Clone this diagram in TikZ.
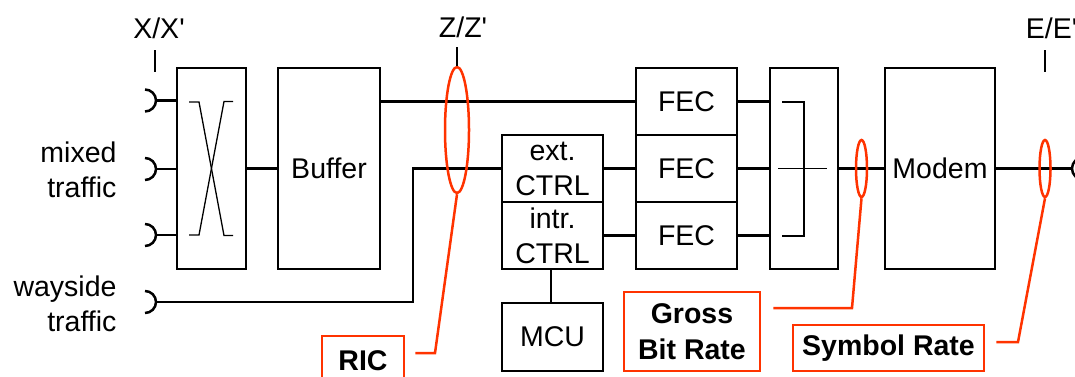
\documentclass[tikz,border=0pt]{standalone}
\usepackage{fontspec}
\setmainfont{Liberation Sans}
\usepackage{tikz}
\usetikzlibrary{shapes.geometric, arrows, positioning}
\definecolor{ricred}{RGB}{255,51,0}

\begin{document}
\begin{tikzpicture}[x=1pt, y=1pt, node distance=100pt,
    font=\fontsize{28.5}{35}\selectfont,
    blk/.style={draw, rectangle, line width=2.5pt, inner sep=0pt, align=center},
    tag/.style={draw=ricred, rectangle, line width=2.5pt, inner sep=0pt, align=center,
        font=\fontsize{28.5}{36}\selectfont\bfseries},
    ring/.style={draw=ricred, ellipse, line width=2.5pt, inner sep=0pt},
    wire/.style={line width=2.5pt},
    redline/.style={draw=ricred, line width=2.5pt},
    thinline/.style={line width=1.3pt}]
    \clip (0,0) rectangle (1075,-376);

    % Main chain of blocks
    \node [blk, minimum width=69pt, minimum height=201pt] (xbar) at (211.5,-168.5) {};
    \node [blk, right of=xbar, node distance=117.5pt, minimum width=102pt, minimum height=201pt] (buffer) {Buffer};
    \node [blk, right of=buffer, node distance=223.5pt, minimum width=101pt, minimum height=67pt] (extc) {ext.\\CTRL};
    \node [blk, below of=extc, node distance=67pt, minimum width=101pt, minimum height=67pt] (intc) {intr.\\CTRL};
    \node [blk, below of=intc, node distance=101.5pt, minimum width=101pt, minimum height=68pt] (mcu) {MCU};
    \node [blk, right of=extc, node distance=134pt, minimum width=101pt, minimum height=67pt] (fec2) {FEC};
    \node [blk, above of=fec2, node distance=67pt, minimum width=101pt, minimum height=67pt] (fec1) {FEC};
    \node [blk, below of=fec2, node distance=67pt, minimum width=101pt, minimum height=67pt] (fec3) {FEC};
    \node [blk, right of=fec2, node distance=117.5pt, minimum width=68pt, minimum height=201pt] (comb) {};
    \node [blk, right of=comb, node distance=136pt, minimum width=110pt, minimum height=201pt] (modem) {Modem};

    % Traffic names and interface points
    \node [anchor=east, align=right] (mixed) at (120,-169.5) {mixed\\traffic};
    \node [anchor=east, align=right] (wayside) at (120,-304) {wayside\\traffic};
    \node [anchor=base] (xlab) at (159,-38) {X/X\textquotesingle};
    \node [anchor=base] (zlab) at (463,-37) {Z/Z\textquotesingle};
    \node [anchor=base] (elab) at (1051.5,-38) {E/E\textquotesingle};
    \draw [thinline] (155,-50) -- (155,-72);
    \draw [thinline] (1045,-50) -- (1045,-72);

    % Input and output ports
    \coordinate (in1) at (156,-100.5);
    \coordinate (in2) at (156,-169);
    \coordinate (in3) at (156,-235);
    \coordinate (in4) at (156,-302);
    \coordinate (out) at (1072,-168.5);
    \draw [wire] (in1) ++(-11,11) arc (90:-90:11);
    \draw [wire] (in2) ++(-11,11) arc (90:-90:11);
    \draw [wire] (in3) ++(-11,11) arc (90:-90:11);
    \draw [wire] (in4) ++(-11,11) arc (90:-90:11);
    \draw [wire] (out) ++(11,11) arc (90:270:11);

    % Switch and combiner insides
    \draw [thinline] (189,-102) -- (199,-102) -- (224,-235.5) -- (233,-235.5);
    \draw [thinline] (233,-101.5) -- (224,-101.5) -- (199,-235) -- (189,-235);
    \draw [thinline] (782,-102) -- (804,-102) -- (804,-236) -- (782,-236);
    \draw [thinline] (778,-168.5) -- (827,-168.5);

    % Straight flow connections
    \draw [wire] (in1) -- (in1 -| xbar.west);
    \draw [wire] (in2) -- (in2 -| xbar.west);
    \draw [wire] (in3) -- (in3 -| xbar.west);
    \draw [wire] (xbar.east) -- (buffer.west);
    \draw [wire] (buffer.east |- fec1.west) -- (fec1.west);
    \draw [wire] (in4) -- (in4 -| 413,0) |- (extc.west);
    \draw [wire] (extc.east) -- (fec2.west);
    \draw [wire] (intc.east) -- (fec3.west);
    \draw [wire] (intc.south -| 551,0) -- (mcu.north -| 551,0);
    \draw [wire] (fec1.east) -- (fec1.east -| comb.west);
    \draw [wire] (fec2.east) -- (comb.west);
    \draw [wire] (fec3.east) -- (fec3.east -| comb.west);
    \draw [wire] (comb.east) -- (modem.west);
    \draw [wire] (modem.east) -- (out);

    % Rate markers
    \node [ring, minimum width=24pt, minimum height=126pt] (zring) at (457,-130) {};
    \node [ring, minimum width=11pt, minimum height=57pt] (gring) at (861.5,-168.5) {};
    \node [ring, minimum width=11pt, minimum height=57pt] (ering) at (1045,-168.5) {};
    \draw [thinline] (zring.north) -- ++(0,19);

    \node [tag, minimum width=82pt, minimum height=49pt] (ric) at (363,-360.5) {RIC};
    \node [tag, minimum width=136pt, minimum height=79pt] (gross) at (692,-331.5) {Gross\\Bit Rate};
    \node [tag, minimum width=191pt, minimum height=46pt] (symb) at (888.5,-348) {Symbol Rate};

    \coordinate (zbend) at (435,-353);
    \coordinate (gbend) at (852,-308);
    \coordinate (ebend) at (1018,-342);
    \draw [redline, shorten >=10pt] (zring.south) -- (zbend) -- (zbend -| ric.east);
    \draw [redline, shorten >=12pt] (gring.south) -- (gbend) -- (gbend -| gross.east);
    \draw [redline, shorten >=11pt] (ering.south) -- (ebend) -- (ebend -| symb.east);
\end{tikzpicture}
\end{document}
